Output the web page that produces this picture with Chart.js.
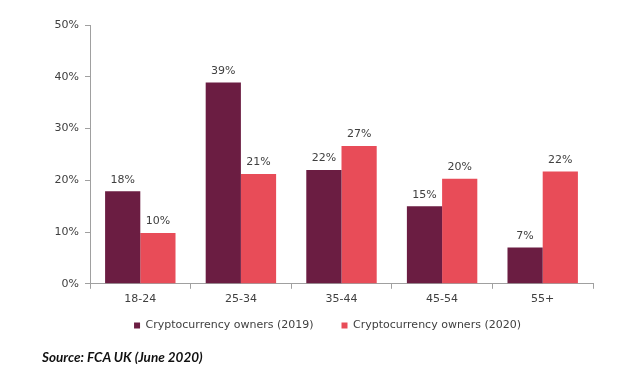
<!DOCTYPE html>
<html>
<head>
<meta charset="utf-8">
<script src="https://cdn.jsdelivr.net/npm/chart.js@4"></script>
<style>
  body { margin: 0; background: #fff; }
  #wrap { position: relative; width: 640px; height: 375px; }
  #source {
    position: absolute; left: 42px; top: 349px;
    font: italic bold 13.5px Lato, "Liberation Sans", sans-serif;
    color: #111;
  }
</style>
</head>
<body>
<div id="wrap">
  <canvas id="chart" width="640" height="375"></canvas>
  <div id="source">Source: FCA UK (June 2020)</div>
</div>
<script>
const ageGroups = ['18-24', '25-34', '35-44', '45-54', '55+'];
const owners2019 = [17.9, 38.9, 22, 15, 7];
const owners2020 = [9.8, 21.2, 26.6, 20.3, 21.7];
const yTicks = [0, 10, 20, 30, 40, 50];

const textColor = '#404040';
const axisColor = '#a0a0a0';
const font = { family: '"DejaVu Sans", Verdana, sans-serif', size: 11 };

// value labels above each bar
const barLabels = {
    id: 'barLabels',
    afterDatasetsDraw(chart) {
        const ctx = chart.ctx;
        ctx.save();
        ctx.font = '11px "DejaVu Sans", Verdana, sans-serif';
        ctx.fillStyle = textColor;
        ctx.textAlign = 'center';
        ctx.textBaseline = 'bottom';
        chart.data.datasets.forEach((ds, i) => {
            chart.getDatasetMeta(i).data.forEach((bar, j) => {
                ctx.fillText(Math.round(ds.data[j]) + '%', bar.x, bar.y - 6);
            });
        });
        ctx.restore();
    }
};

// move the legend a bit: centred under the plot, closer to the axis labels
const legendShift = {
    id: 'legendShift',
    afterLayout(chart) {
        const lg = chart.legend;
        lg.left += 31;
        lg.right += 31;
        lg.top -= 18;
        lg.bottom -= 18;
    }
};

new Chart(document.getElementById('chart').getContext('2d'), {
    type: 'bar',
    data: {
        labels: ageGroups,
        datasets: [{
            label: 'Cryptocurrency owners (2019)',
            data: owners2019,
            backgroundColor: '#6b1d42'
        }, {
            label: 'Cryptocurrency owners (2020)',
            data: owners2020,
            backgroundColor: '#e84c58'
        }]
    },
    options: {
        responsive: false,
        animation: false,
        categoryPercentage: 0.7,
        barPercentage: 1.0,
        layout: { padding: { top: 25, right: 47, bottom: 16, left: 0 } },
        plugins: {
            legend: {
                position: 'bottom',
                labels: {
                    boxWidth: 6,
                    boxHeight: 6,
                    color: textColor,
                    font: font,
                    padding: 28
                }
            },
            tooltip: { enabled: false }
        },
        scales: {
            x: {
                grid: { drawOnChartArea: false, tickLength: 5, color: axisColor },
                border: { color: axisColor },
                ticks: { color: textColor, font: font, padding: 4 }
            },
            y: {
                min: 0,
                max: 50,
                afterFit: s => { s.width = 90; },
                afterBuildTicks: s => { s.ticks = yTicks.map(v => ({ value: v })); },
                grid: { drawOnChartArea: false, tickLength: 5, color: axisColor },
                border: { color: axisColor },
                ticks: {
                    color: textColor,
                    font: font,
                    padding: 6,
                    callback: v => v + '%'
                }
            }
        }
    },
    plugins: [barLabels, legendShift]
});
</script>
</body>
</html>
